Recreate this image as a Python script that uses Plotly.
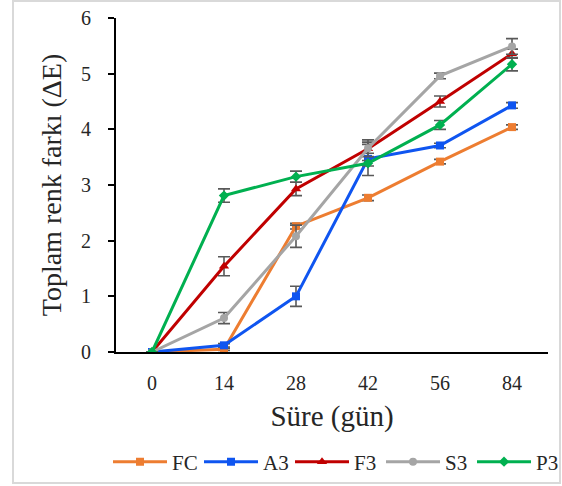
import plotly.graph_objects as go

# Storage time (days) and total colour difference per formulation
days = ["0", "14", "28", "42", "56", "84"]

fc = [0, 0.05, 2.26, 2.77, 3.42, 4.04]
fc_err = [0, 0.02, 0.05, 0.05, 0.04, 0.04]

a3 = [0, 0.12, 1.00, 3.47, 3.71, 4.43]
a3_err = [0, 0.03, 0.18, 0.30, 0.04, 0.05]

f3 = [0, 1.54, 2.93, 3.65, 4.50, 5.36]
f3_err = [0, 0.17, 0.12, 0.08, 0.10, 0.08]

s3 = [0, 0.61, 2.08, 3.66, 4.96, 5.49]
s3_err = [0, 0.10, 0.20, 0.15, 0.05, 0.14]

p3 = [0, 2.81, 3.15, 3.39, 4.08, 5.17]
p3_err = [0, 0.12, 0.10, 0.05, 0.08, 0.12]

series = [
    ("FC", fc, fc_err, "#ED7D31", "square", 8),
    ("A3", a3, a3_err, "#0F55F0", "square", 8),
    ("F3", f3, f3_err, "#C00000", "triangle-up", 9),
    ("S3", s3, s3_err, "#A5A5A5", "circle", 8),
    ("P3", p3, p3_err, "#00B050", "diamond", 8),
]

SERIF = "Liberation Serif"
TEXT = "#262626"

fig = go.Figure()
for name, vals, errs, color, symbol, size in series:
    fig.add_trace(go.Scatter(
        x=days, y=vals, name=name, mode="lines+markers",
        line=dict(color=color, width=3),
        marker=dict(color=color, symbol=symbol, size=size),
        error_y=dict(type="data", array=errs, visible=True,
                     color="#595959", thickness=1.6, width=6),
    ))

fig.update_layout(
    width=562, height=486,
    margin=dict(l=116, r=14, t=18, b=134, autoexpand=False),
    paper_bgcolor="white", plot_bgcolor="white",
    font=dict(family=SERIF, color=TEXT, size=20),
    showlegend=True,
    legend=dict(
        orientation="h", xref="paper", yref="paper",
        x=-0.0185, xanchor="left", y=(352 - 462) / 334, yanchor="middle",
        font=dict(family=SERIF, size=21, color=TEXT),
        itemwidth=54, entrywidth=22, tracegroupgap=0, bgcolor="rgba(0,0,0,0)",
    ),
    xaxis=dict(
        type="category", range=[-0.5, 5.5], showgrid=False, zeroline=False,
        showline=True, linecolor="black", linewidth=2,
        ticks="", ticklabelstandoff=12,
        tickfont=dict(size=20, family=SERIF, color=TEXT),
        title=dict(text="Süre (gün)", font=dict(size=29, family=SERIF, color=TEXT),
                   standoff=13),
    ),
    yaxis=dict(
        range=[0, 6], dtick=1, showgrid=False, zeroline=False,
        showline=True, linecolor="black", linewidth=2,
        ticks="outside", ticklen=6, tickwidth=2, tickcolor="black",
        ticklabelstandoff=13,
        tickfont=dict(size=20, family=SERIF, color=TEXT),
        title=dict(text="Toplam renk farkı (ΔE)", font=dict(size=28, family=SERIF, color=TEXT),
                   standoff=11),
    ),
    shapes=[dict(
        type="rect", xref="paper", yref="paper",
        x0=(13 - 116) / 432, x1=(560 - 116) / 432,
        y0=(352 - 483) / 334, y1=(352 - 1) / 334,
        line=dict(color="#D9D9D9", width=2), fillcolor="rgba(0,0,0,0)", layer="below",
    )],
)

fig.write_html("out.html")
